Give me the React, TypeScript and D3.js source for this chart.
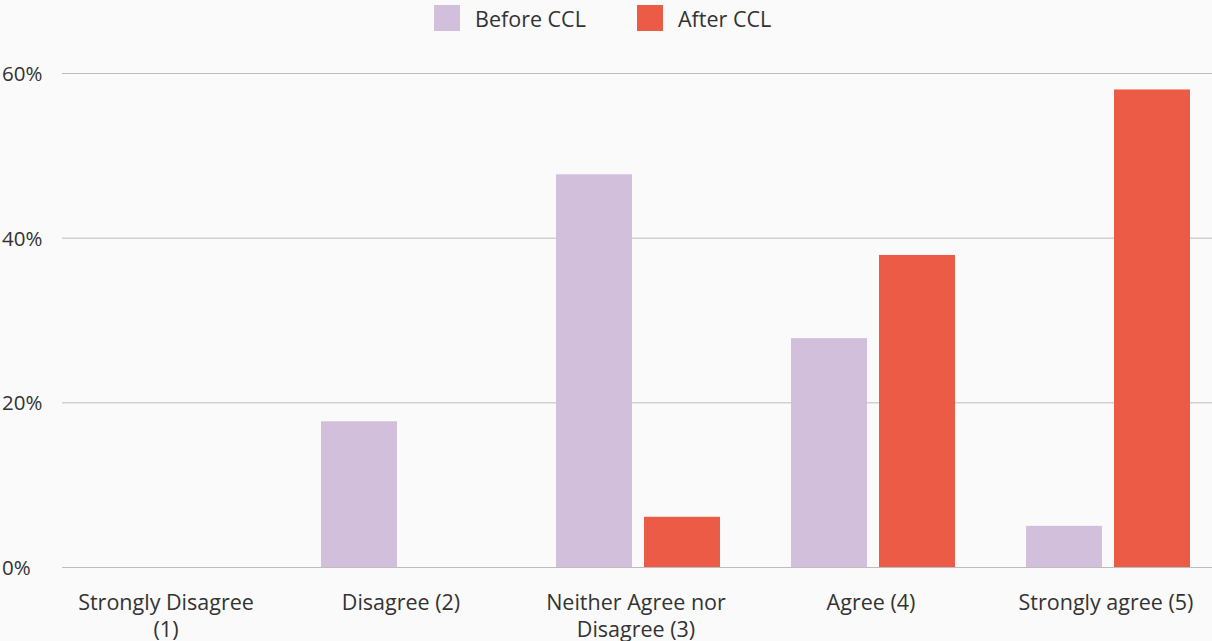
import { useEffect, useRef } from 'react'
import * as d3 from 'd3'

const CATEGORIES = [
  'Strongly Disagree (1)',
  'Disagree (2)',
  'Neither Agree nor Disagree (3)',
  'Agree (4)',
  'Strongly agree (5)',
]
const CATEGORY_LINES: string[][] = [
  ['Strongly Disagree', '(1)'],
  ['Disagree (2)'],
  ['Neither Agree nor', 'Disagree (3)'],
  ['Agree (4)'],
  ['Strongly agree (5)'],
]
const SERIES = ['Before CCL', 'After CCL']
const BEFORE = [0, 17.7, 47.7, 27.8, 5.0]
const AFTER = [0, 0, 6.1, 37.9, 58.0]
const Y_TICKS = [0, 20, 40, 60]

const COLORS: Record<string, string> = {
  'Before CCL': '#d2bfdc',
  'After CCL': '#eb5b45',
}

const W = 1212
const H = 641
const FONT = '"Open Sans", sans-serif'
const FS = '21.5px'

export default function App() {
  const svgRef = useRef<SVGSVGElement>(null)

  useEffect(() => {
    const svgEl = svgRef.current
    if (!svgEl) return
    document.body.style.margin = '0'
    document.body.style.background = '#fafafa'

    const svg = d3.select(svgEl)
    svg.selectAll('*').remove()

    const x0 = d3.scaleBand<string>().domain(CATEGORIES).range([50.5, 1225.5]).padding(0)
    const x1 = d3.scaleBand<string>().domain(SERIES)
      .range([0, x0.bandwidth()])
      .paddingInner(12 / 88)
      .paddingOuter(35.5 / 88)
    const y = d3.scaleLinear().domain([0, 60]).range([567, 73])

    // grid
    Y_TICKS.forEach(t => {
      svg.append('line')
        .attr('x1', 62).attr('x2', W)
        .attr('y1', y(t) + 0.5).attr('y2', y(t) + 0.5)
        .attr('stroke', '#bdbdbd').attr('stroke-width', 1)
      svg.append('text')
        .attr('x', 2).attr('y', y(t))
        .attr('dominant-baseline', 'central')
        .attr('fill', '#333')
        .style('font-family', FONT).style('font-size', '20.5px')
        .text(`${t}%`)
    })

    // bars
    const data = CATEGORIES.map((c, i) => ({ c, vals: [BEFORE[i], AFTER[i]] }))
    data.forEach(d => {
      const g = svg.append('g').attr('transform', `translate(${x0(d.c)},0)`)
      d.vals.forEach((v, j) => {
        if (v <= 0) return
        g.append('rect')
          .attr('x', x1(SERIES[j])!)
          .attr('y', y(v))
          .attr('width', x1.bandwidth())
          .attr('height', y(0) - y(v))
          .attr('fill', COLORS[SERIES[j]])
      })
    })

    // category labels
    CATEGORIES.forEach((c, i) => {
      const cx = x0(c)! + x0.bandwidth() / 2 - 2
      CATEGORY_LINES[i].forEach((line, k) => {
        svg.append('text')
          .attr('x', cx).attr('y', 601 + k * 27)
          .attr('text-anchor', 'middle')
          .attr('dominant-baseline', 'central')
          .attr('fill', '#333')
          .style('font-family', FONT).style('font-size', FS)
          .text(line)
      })
    })

    // legend
    const legendX = [434, 637]
    SERIES.forEach((s, i) => {
      svg.append('rect')
        .attr('x', legendX[i]).attr('y', 5)
        .attr('width', 26).attr('height', 26)
        .attr('fill', COLORS[s])
      svg.append('text')
        .attr('x', legendX[i] + 41).attr('y', 18)
        .attr('dominant-baseline', 'central')
        .attr('fill', '#333')
        .style('font-family', FONT).style('font-size', FS)
        .text(s)
    })
  }, [])

  return (
    <svg
      ref={svgRef}
      width={W}
      height={H}
      style={{ display: 'block', background: '#fafafa' }}
    />
  )
}
